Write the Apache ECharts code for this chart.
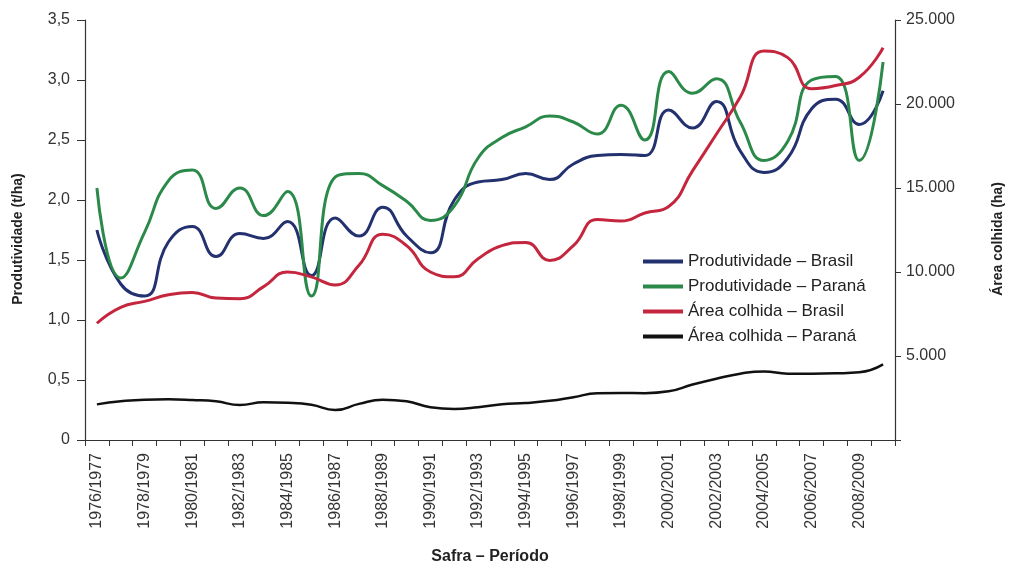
<!DOCTYPE html>
<html>
<head>
<meta charset="utf-8">
<script src="https://cdn.jsdelivr.net/npm/echarts@6/dist/echarts.min.js"></script>
<style>html,body{margin:0;padding:0;background:#fff;overflow:hidden}#c{width:1013px;height:570px}</style>
</head>
<body>
<div id="c"></div>
<script>
const categories = ['1976/1977','1977/1978','1978/1979','1979/1980','1980/1981','1981/1982','1982/1983','1983/1984','1984/1985','1985/1986','1986/1987','1987/1988','1988/1989','1989/1990','1990/1991','1991/1992','1992/1993','1993/1994','1994/1995','1995/1996','1996/1997','1997/1998','1998/1999','1999/2000','2000/2001','2001/2002','2002/2003','2003/2004','2004/2005','2005/2006','2006/2007','2007/2008','2008/2009','2009/2010'];
const prodBrasil = [1.75,1.30,1.20,1.65,1.78,1.53,1.72,1.68,1.82,1.37,1.85,1.70,1.94,1.70,1.56,2.00,2.15,2.17,2.22,2.17,2.30,2.37,2.38,2.37,2.75,2.60,2.82,2.41,2.23,2.35,2.76,2.84,2.63,2.91];
const prodParana = [2.10,1.35,1.73,2.16,2.25,1.93,2.10,1.87,2.07,1.20,2.19,2.22,2.12,1.99,1.83,1.95,2.35,2.52,2.61,2.70,2.65,2.55,2.79,2.50,3.07,2.89,3.01,2.65,2.33,2.49,3.00,3.03,2.33,3.15];
const areaBrasil = [6950,7900,8250,8640,8780,8450,8410,9130,10000,9710,9230,10400,12250,11570,10000,9710,10790,11570,11760,10690,11570,13120,13030,13510,13900,16020,18200,20400,23150,22760,20910,21100,21590,23350];
const areaParana = [2120,2300,2400,2420,2380,2300,2080,2250,2220,2100,1780,2150,2400,2300,1950,1850,1950,2130,2200,2330,2550,2780,2800,2790,2900,3300,3650,3950,4080,3950,3950,3970,4030,4500];
const leftTicks = [0,0.5,1,1.5,2,2.5,3,3.5];
const rightTicks = [0,5000,10000,15000,20000,25000];

const FONT = 'Liberation Sans, Arial, sans-serif';
const axisLine = {show:true, lineStyle:{color:'#333', width:1.2}};
const chart = echarts.init(document.getElementById('c'), null, {renderer:'canvas'});
chart.setOption({
  animation:false,
  backgroundColor:'#fff',
  textStyle:{fontFamily:FONT},
  grid:{left:85, right:112, top:20, bottom:122, containLabel:false},
  legend:{
    orient:'vertical', left:638, top:248, itemWidth:40, itemHeight:4, itemGap:8,
    icon:'rect',
    textStyle:{fontFamily:FONT, fontSize:17, color:'#222'},
    data:['Produtividade – Brasil','Produtividade – Paraná','Área colhida – Brasil','Área colhida – Paraná']
  },
  xAxis:{
    type:'category', data:categories, boundaryGap:true,
    name:'Safra – Período', nameLocation:'middle', nameGap:109,
    nameTextStyle:{fontFamily:FONT, fontSize:16, fontWeight:'bold', color:'#222'},
    axisLine:axisLine,
    axisTick:{show:true, interval:0, length:6, lineStyle:{color:'#333'}},
    axisLabel:{interval:1, rotate:90, fontSize:16, color:'#333', margin:13, fontFamily:FONT},
    splitLine:{show:false}
  },
  yAxis:[{
    type:'value', min:0, max:3.5, interval:0.5, position:'left',
    name:'Produtividade (t/ha)', nameLocation:'middle', nameGap:60,
    nameTextStyle:{fontFamily:FONT, fontSize:14, fontWeight:'bold', color:'#222', padding:[0,18,0,0]},
    axisLine:axisLine,
    axisTick:{show:true, length:8, lineStyle:{color:'#333'}},
    axisLabel:{fontSize:16, color:'#333', margin:15, fontFamily:FONT,
      formatter:v => leftTicks.includes(v) ? (v===0 ? '0' : v.toFixed(1).replace('.',',')) : ''},
    splitLine:{show:false}
  },{
    type:'value', min:0, max:25000, interval:5000, position:'right',
    name:'Área colhida (ha)', nameLocation:'middle', nameGap:96, nameRotate:90,
    nameTextStyle:{fontFamily:FONT, fontSize:14, fontWeight:'bold', color:'#222', padding:[0,18,0,0]},
    axisLine:axisLine,
    axisTick:{show:true, length:6, lineStyle:{color:'#333'}},
    axisLabel:{fontSize:16, color:'#333', margin:11, fontFamily:FONT,
      formatter:v => (v===0 || !rightTicks.includes(v)) ? '' : String(v).replace(/\B(?=(\d{3})+(?!\d))/g,'.')},
    splitLine:{show:false}
  }],
  series:[
    {name:'Produtividade – Brasil', type:'line', yAxisIndex:0, data:prodBrasil, smooth:0.5, showSymbol:false, color:'#23316f', lineStyle:{width:3, color:'#23316f'}},
    {name:'Produtividade – Paraná', type:'line', yAxisIndex:0, data:prodParana, smooth:0.5, showSymbol:false, color:'#2b8a4a', lineStyle:{width:3, color:'#2b8a4a'}},
    {name:'Área colhida – Brasil', type:'line', yAxisIndex:1, data:areaBrasil, smooth:0.5, showSymbol:false, color:'#c4263e', lineStyle:{width:3, color:'#c4263e'}},
    {name:'Área colhida – Paraná', type:'line', yAxisIndex:1, data:areaParana, smooth:0.5, showSymbol:false, color:'#111111', lineStyle:{width:2.5, color:'#111111'}}
  ]
});
</script>
</body>
</html>
